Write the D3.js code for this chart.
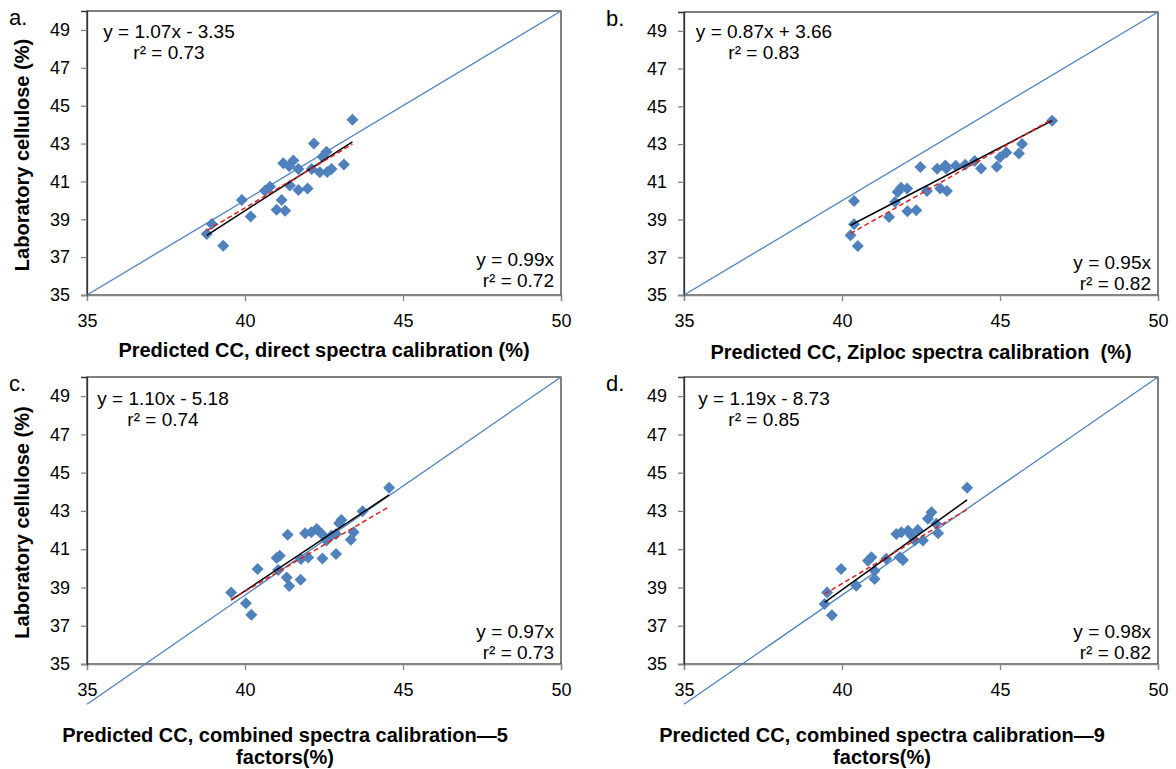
<!DOCTYPE html>
<html>
<head>
<meta charset="utf-8">
<script src="https://cdn.jsdelivr.net/npm/d3@7"></script>
<style>
  body { margin: 0; background: #fff; }
  svg text { font-family: "Liberation Sans", Arial, sans-serif; fill: #000; }
</style>
</head>
<body>
<svg id="chart" width="1176" height="769"></svg>
<script>
/* axis ticks */
const xTicks = [35, 40, 45, 50];
const yTicks = [35, 37, 39, 41, 43, 45, 47, 49];

/* [predicted CC, laboratory cellulose] */
const pointsA = [
  [43.40, 44.25], [42.18, 43.00], [42.58, 42.57], [42.45, 42.30], [41.21, 41.96],
  [41.53, 42.10], [41.40, 41.80], [41.69, 41.66], [42.11, 41.66], [42.37, 41.48],
  [42.74, 41.66], [42.60, 41.50], [43.13, 41.89], [40.79, 40.72], [40.63, 40.51],
  [41.42, 40.78], [41.69, 40.54], [41.98, 40.63], [39.90, 40.02], [41.16, 40.02],
  [41.00, 39.50], [41.27, 39.45], [40.18, 39.15], [38.95, 38.75], [38.79, 38.22],
  [39.31, 37.60]
];
const pointsB = [
  [40.38, 39.98], [40.38, 38.75], [40.27, 38.17], [40.50, 37.60], [41.49, 39.14],
  [42.07, 39.44], [42.35, 39.49], [41.68, 39.93], [41.76, 40.46], [41.87, 40.69],
  [42.06, 40.64], [42.69, 40.51], [43.11, 40.64], [43.32, 40.51], [42.48, 41.78],
  [43.01, 41.69], [43.27, 41.87], [43.30, 41.70], [43.60, 41.85], [43.90, 41.90],
  [44.20, 42.10], [44.40, 41.70], [44.90, 41.80], [45.00, 42.30], [45.20, 42.55],
  [45.60, 42.50], [45.70, 43.00], [46.65, 44.23]
];
const pointsC = [
  [44.56, 44.21], [43.72, 42.98], [43.05, 42.53], [42.98, 42.35], [43.44, 41.89],
  [43.35, 41.49], [42.88, 41.80], [42.88, 40.75], [42.45, 40.52], [41.90, 41.83],
  [42.27, 42.06], [42.10, 41.89], [42.43, 41.80], [42.58, 41.45], [42.74, 41.71],
  [41.35, 41.76], [42.00, 40.57], [41.77, 40.49], [41.10, 40.66], [41.00, 40.54],
  [41.05, 39.91], [40.40, 39.96], [41.32, 39.52], [41.40, 39.08], [41.76, 39.40],
  [39.56, 38.74], [40.03, 38.18], [40.20, 37.57]
];
const pointsD = [
  [43.96, 44.21], [42.83, 42.93], [42.72, 42.59], [42.98, 42.33], [43.04, 41.83],
  [42.56, 41.45], [42.30, 41.45], [42.09, 41.97], [41.88, 41.89], [41.72, 41.80],
  [42.20, 41.71], [42.40, 42.00], [41.83, 40.58], [41.93, 40.44], [41.40, 40.50],
  [40.93, 40.58], [40.82, 40.40], [41.03, 39.88], [41.03, 39.44], [40.45, 39.09],
  [39.97, 39.96], [39.53, 38.74], [39.45, 38.13], [39.68, 37.55]
];

/* fitted lines: [slope, intercept] */
const fitA = [1.07, -3.35], zeroA = [0.99, 0];
const fitB = [0.87, 3.66],  zeroB = [0.95, 0];
const fitC = [1.10, -5.18], zeroC = [0.97, 0];
const fitD = [1.19, -8.73], zeroD = [0.98, 0];

/* reference lines as drawn in the figure */
const unityAB = [[35, 35], [50, 50]];
const unityCD = [[35, 32.9], [50, 50]];

const eqA = ['y = 1.07x - 3.35', 'r² = 0.73'], eqZeroA = ['y = 0.99x', 'r² = 0.72'];
const eqB = ['y = 0.87x + 3.66', 'r² = 0.83'], eqZeroB = ['y = 0.95x', 'r² = 0.82'];
const eqC = ['y = 1.10x - 5.18', 'r² = 0.74'], eqZeroC = ['y = 0.97x', 'r² = 0.73'];
const eqD = ['y = 1.19x - 8.73', 'r² = 0.85'], eqZeroD = ['y = 0.98x', 'r² = 0.82'];

const xTitleA = ['Predicted CC, direct spectra calibration (%)'];
const xTitleB = ['Predicted CC, Ziploc spectra calibration  (%)'];
const xTitleC = ['Predicted CC, combined spectra calibration\u20145', 'factors(%)'];
const xTitleD = ['Predicted CC, combined spectra calibration\u20149', 'factors(%)'];
const yTitle = 'Laboratory cellulose (%)';

const blue = '#4F81BD';

const panels = [
  { tag: 'a.', pts: pointsA, fit: fitA, zero: zeroA, unity: unityAB, eq: eqA, eqZero: eqZeroA,
    xTitle: xTitleA, box: { l: 87, r: 561, t: 11, b: 295 }, eqX: 82, eqY: 38, zeroY: 266, titleX: 237, titleY: 357, showY: true },
  { tag: 'b.', pts: pointsB, fit: fitB, zero: zeroB, unity: unityAB, eq: eqB, eqZero: eqZeroB,
    xTitle: xTitleB, box: { l: 684, r: 1158, t: 12, b: 295 }, eqX: 80, eqY: 38, zeroY: 269, titleX: 237, titleY: 359, showY: false },
  { tag: 'c.', pts: pointsC, fit: fitC, zero: zeroC, unity: unityCD, eq: eqC, eqZero: eqZeroC,
    xTitle: xTitleC, box: { l: 87, r: 561, t: 377, b: 664 }, eqX: 76, eqY: 405, zeroY: 638, titleX: 198, titleY: 742, showY: true },
  { tag: 'd.', pts: pointsD, fit: fitD, zero: zeroD, unity: unityCD, eq: eqD, eqZero: eqZeroD,
    xTitle: xTitleD, box: { l: 684, r: 1158, t: 377, b: 664 }, eqX: 80, eqY: 405, zeroY: 638, titleX: 198, titleY: 742, showY: false }
];

const svg = d3.select('#chart');
const diamond = d3.symbol().type(d3.symbolSquare).size(72);

panels.forEach((p) => {
  const { l, r, t, b } = p.box;
  const x = d3.scaleLinear().domain([35, 50]).range([l, r]);
  const y = d3.scaleLinear().domain([35, 50]).range([b, t]);
  const g = svg.append('g');

  // plot area border
  g.append('rect')
    .attr('x', l).attr('y', t)
    .attr('width', r - l).attr('height', b - t)
    .attr('fill', 'none')
    .attr('stroke', '#000')
    .attr('stroke-width', 1);

  // axes
  const xAxis = g.append('g')
    .attr('transform', `translate(0,${b})`)
    .call(d3.axisBottom(x).tickValues(xTicks).tickSize(6).tickPadding(13));
  const yAxis = g.append('g')
    .attr('transform', `translate(${l},0)`)
    .call(d3.axisLeft(y).tickValues(yTicks).tickSize(6).tickPadding(11));
  [xAxis, yAxis].forEach((ax) => {
    ax.select('.domain').attr('stroke', '#868686').attr('stroke-width', 1.3);
    ax.selectAll('.tick line').attr('stroke', '#868686').attr('stroke-width', 1.3);
    ax.selectAll('.tick text').style('font-size', '18px').attr('fill', '#000');
  });
  yAxis.select('.domain').attr('stroke', '#333');

  // 1:1 line
  g.append('line')
    .attr('x1', x(p.unity[0][0])).attr('y1', y(p.unity[0][1]))
    .attr('x2', x(p.unity[1][0])).attr('y2', y(p.unity[1][1]))
    .attr('stroke', blue)
    .attr('stroke-width', 1.3);

  // points
  g.selectAll('path.pt')
    .data(p.pts)
    .enter()
    .append('path')
    .attr('class', 'pt')
    .attr('d', diamond)
    .attr('transform', (d) => `translate(${x(d[0])},${y(d[1])}) rotate(45)`)
    .attr('fill', blue);

  // trend lines over the data range
  const [xMin, xMax] = d3.extent(p.pts, (d) => d[0]);
  const line = d3.line().x((d) => x(d)).y((d) => y(p.fit[0] * d + p.fit[1]));
  const lineZero = d3.line().x((d) => x(d)).y((d) => y(p.zero[0] * d + p.zero[1]));
  g.append('path')
    .attr('d', line([xMin, xMax]))
    .attr('stroke', '#000')
    .attr('stroke-width', 1.5)
    .attr('fill', 'none');
  g.append('path')
    .attr('d', lineZero([xMin, xMax]))
    .attr('stroke', '#E02020')
    .attr('stroke-width', 1.5)
    .attr('stroke-dasharray', '5,3')
    .attr('fill', 'none');

  // equations
  g.selectAll('text.eq')
    .data(p.eq)
    .enter()
    .append('text')
    .attr('class', 'eq')
    .attr('x', l + p.eqX)
    .attr('y', (d, i) => p.eqY + i * 21)
    .attr('text-anchor', 'middle')
    .style('font-size', '19px')
    .text((d) => d);
  g.selectAll('text.eqz')
    .data(p.eqZero)
    .enter()
    .append('text')
    .attr('class', 'eqz')
    .attr('x', r - 7)
    .attr('y', (d, i) => p.zeroY + i * 21)
    .attr('text-anchor', 'end')
    .style('font-size', '19px')
    .text((d) => d);

  // panel tag
  g.append('text')
    .attr('x', l - 78)
    .attr('y', t + 14)
    .style('font-size', '22px')
    .text(p.tag);

  // x title
  g.selectAll('text.xt')
    .data(p.xTitle)
    .enter()
    .append('text')
    .attr('class', 'xt')
    .attr('x', l + p.titleX)
    .attr('y', (d, i) => p.titleY + i * 22)
    .attr('text-anchor', 'middle')
    .style('font-size', '20px')
    .style('font-weight', 'bold')
    .style('white-space', 'pre')
    .text((d) => d);

  // y title
  if (p.showY) {
    g.append('text')
      .attr('transform', `translate(${l - 58},${(t + b) / 2 + 2}) rotate(-90)`)
      .attr('text-anchor', 'middle')
      .style('font-size', '20px')
      .style('font-weight', 'bold')
      .text(yTitle);
  }
});
</script>
</body>
</html>
